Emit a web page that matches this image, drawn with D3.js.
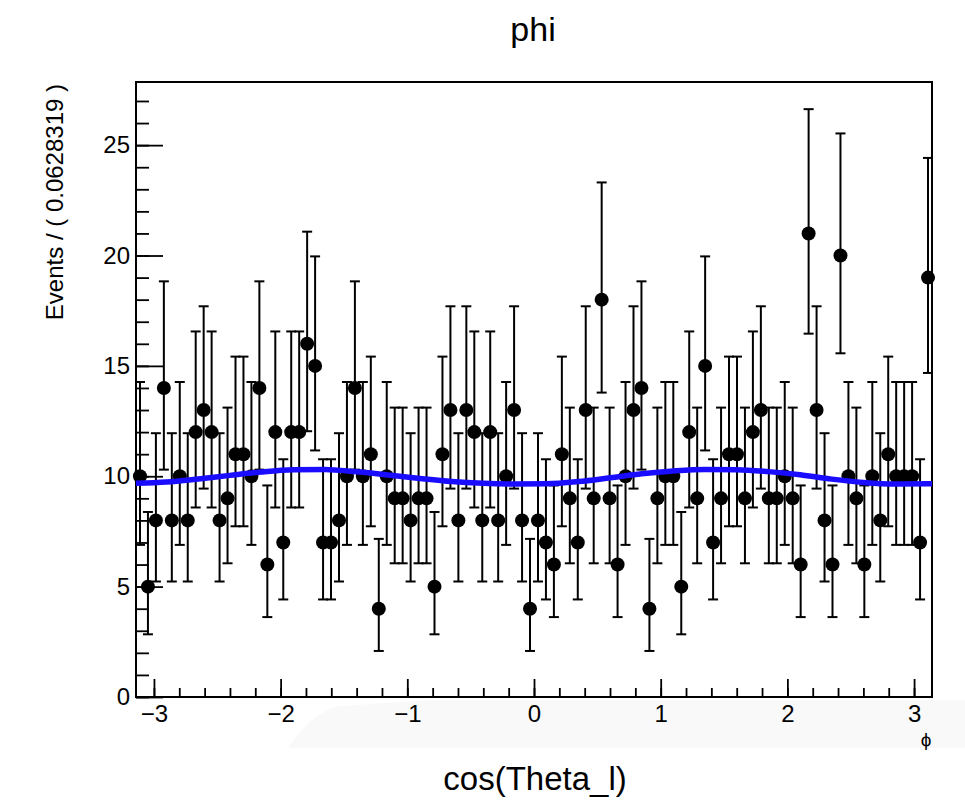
<!DOCTYPE html>
<html>
<head>
<meta charset="utf-8">
<script src="https://cdn.jsdelivr.net/npm/d3@7"></script>
<style>
  html, body { margin: 0; padding: 0; background: #ffffff; }
  svg { display: block; }
  text { font-family: "Liberation Sans", Arial, Helvetica, sans-serif; fill: #000; }
</style>
</head>
<body>
<svg id="chart" width="965" height="805"></svg>
<script>
// ---------------- data ----------------
const chartTitle = "phi";
const xTitle = "cos(Theta_l)";
const yTitle = "Events / ( 0.0628319 )";
const xVarLabel = "ϕ";
const binWidth = 0.0628319;
const xRange = [-Math.PI, Math.PI];
const yRange = [0, 27.86];
const xMajorTicks = [-3, -2, -1, 0, 1, 2, 3];
const yMajorTicks = [0, 5, 10, 15, 20, 25];

// event counts per bin (100 bins from -pi to pi)
const counts = [
  10, 5, 8, 14, 8, 10, 8, 12, 13, 12,
  8, 9, 11, 11, 10, 14, 6, 12, 7, 12,
  12, 16, 15, 7, 7, 8, 10, 14, 10, 11,
  4, 10, 9, 9, 8, 9, 9, 5, 11, 13,
  8, 13, 12, 8, 12, 8, 10, 13, 8, 4,
  8, 7, 6, 11, 9, 7, 13, 9, 18, 9,
  6, 10, 13, 14, 4, 9, 10, 10, 5, 12,
  9, 15, 7, 9, 11, 11, 9, 12, 13, 9,
  9, 10, 9, 6, 21, 13, 8, 6, 20, 10,
  9, 6, 10, 8, 11, 10, 10, 10, 7, 19
];

// Poisson 68% interval bounds, indexed by count
const poisLo = [0, 0.173, 0.708, 1.367, 2.086, 2.840, 3.620, 4.419, 5.232, 6.057, 6.891,
                7.734, 8.585, 9.441, 10.30, 11.17, 12.04, 12.92, 13.79, 14.68, 15.57, 16.46];
const poisHi = [1.841, 3.300, 4.638, 5.918, 7.163, 8.382, 9.584, 10.77, 11.95, 13.11, 14.27,
                15.42, 16.56, 17.70, 18.83, 19.96, 21.08, 22.20, 23.31, 24.42, 25.53, 26.63];

// fitted pdf curve
const fitPhi = [-3.1416, -2.9, -2.65, -2.4, -2.15, -1.9, -1.65, -1.4, -1.15, -0.9, -0.65, -0.4, -0.15,
                0.1, 0.35, 0.6, 0.85, 1.1, 1.35, 1.6, 1.85, 2.1, 2.35, 2.6, 2.85, 3.1416];
const fitVal = [9.68, 9.74, 9.88, 10.04, 10.19, 10.29, 10.31, 10.20, 10.06, 9.90, 9.76, 9.68, 9.65,
                9.66, 9.76, 9.93, 10.11, 10.24, 10.31, 10.30, 10.21, 10.07, 9.87, 9.72, 9.65, 9.66];

// ---------------- layout ----------------
const svg = d3.select("#chart");
const L = 136, R = 932, T = 82, B = 697;
const x = d3.scaleLinear().domain(xRange).range([L, R]);
const y = d3.scaleLinear().domain(yRange).range([B, T]);

// faint background band behind the x labels
svg.append("path")
  .attr("d", "M430,700 L965,700 L965,748 L288,748 C300,730 315,712 340,706 Z")
  .attr("fill", "#f9f9f9");

// frame
svg.append("rect")
  .attr("x", L).attr("y", T).attr("width", R - L).attr("height", B - T)
  .attr("fill", "none").attr("stroke", "#000").attr("stroke-width", 2);

// y axis: minor ticks
const yMinor = d3.range(0, 28, 1).filter(v => v <= yRange[1]);
svg.append("g").attr("transform", `translate(${L},0)`)
  .call(d3.axisRight(y).tickValues(yMinor).tickSize(13).tickFormat(""))
  .call(g => g.select(".domain").remove())
  .call(g => g.selectAll("line").attr("stroke", "#000").attr("stroke-width", 1.8));
// y axis: major ticks
svg.append("g").attr("transform", `translate(${L},0)`)
  .call(d3.axisRight(y).tickValues(yMajorTicks).tickSize(27).tickFormat(""))
  .call(g => g.select(".domain").remove())
  .call(g => g.selectAll("line").attr("stroke", "#000").attr("stroke-width", 1.8));
// y labels
svg.append("g").attr("transform", `translate(${L},0)`)
  .call(d3.axisLeft(y).tickValues(yMajorTicks).tickSize(0).tickPadding(6).tickFormat(d3.format("d")))
  .call(g => g.select(".domain").remove())
  .call(g => g.selectAll("text").attr("font-size", 24).attr("font-family", "Liberation Sans, Arial, sans-serif"));

// x axis: minor ticks
const xMinor = d3.range(-3.0, 3.21, 0.2).map(v => Math.round(v * 10) / 10).filter(v => v >= xRange[0] && v <= xRange[1]);
svg.append("g").attr("transform", `translate(0,${B})`)
  .call(d3.axisTop(x).tickValues(xMinor).tickSize(9).tickFormat(""))
  .call(g => g.select(".domain").remove())
  .call(g => g.selectAll("line").attr("stroke", "#000").attr("stroke-width", 1.8));
svg.append("g").attr("transform", `translate(0,${B})`)
  .call(d3.axisTop(x).tickValues(xMajorTicks).tickSize(18).tickFormat(""))
  .call(g => g.select(".domain").remove())
  .call(g => g.selectAll("line").attr("stroke", "#000").attr("stroke-width", 1.8));
svg.append("g").attr("transform", `translate(0,${B})`)
  .call(d3.axisBottom(x).tickValues(xMajorTicks).tickSize(0).tickPadding(8).tickFormat(d3.format("d")))
  .call(g => g.select(".domain").remove())
  .call(g => g.selectAll("text").attr("font-size", 24).attr("font-family", "Liberation Sans, Arial, sans-serif"));

// titles
svg.append("text").attr("x", 533).attr("y", 41)
  .attr("text-anchor", "middle").attr("font-size", 34).text(chartTitle);
svg.append("text").attr("x", 535).attr("y", 790)
  .attr("text-anchor", "middle").attr("font-size", 33).text(xTitle);
svg.append("text").attr("transform", "translate(63,84) rotate(-90)")
  .attr("text-anchor", "end").attr("font-size", 24).text(yTitle);
svg.append("text").attr("x", 926).attr("y", 746)
  .attr("text-anchor", "middle").attr("font-size", 19).text(xVarLabel);

// ---------------- data points ----------------
const pts = counts.map((n, i) => ({
  phi: xRange[0] + (i + 0.5) * binWidth,
  n: n, lo: poisLo[n], hi: poisHi[n]
}));
const gData = svg.append("g");
const capW = 5;
gData.selectAll("line.ev").data(pts).join("line")
  .attr("class", "ev")
  .attr("x1", d => x(d.phi)).attr("x2", d => x(d.phi))
  .attr("y1", d => y(d.lo)).attr("y2", d => y(d.hi))
  .attr("stroke", "#000").attr("stroke-width", 2);
gData.selectAll("line.capT").data(pts).join("line")
  .attr("class", "capT")
  .attr("x1", d => x(d.phi) - capW).attr("x2", d => x(d.phi) + capW)
  .attr("y1", d => y(d.hi)).attr("y2", d => y(d.hi))
  .attr("stroke", "#000").attr("stroke-width", 2);
gData.selectAll("line.capB").data(pts).join("line")
  .attr("class", "capB")
  .attr("x1", d => x(d.phi) - capW).attr("x2", d => x(d.phi) + capW)
  .attr("y1", d => y(d.lo)).attr("y2", d => y(d.lo))
  .attr("stroke", "#000").attr("stroke-width", 2);
gData.selectAll("line.eh").data(pts).join("line")
  .attr("class", "eh")
  .attr("x1", d => x(d.phi - binWidth / 2)).attr("x2", d => x(d.phi + binWidth / 2))
  .attr("y1", d => y(d.n)).attr("y2", d => y(d.n))
  .attr("stroke", "#000").attr("stroke-width", 2);
gData.selectAll("circle").data(pts).join("circle")
  .attr("cx", d => x(d.phi)).attr("cy", d => y(d.n))
  .attr("r", 7).attr("fill", "#000");

// ---------------- fit curve ----------------
const fitPts = fitPhi.map((p, i) => [p, fitVal[i]]);
svg.append("path")
  .datum(fitPts)
  .attr("d", d3.line().x(d => x(d[0])).y(d => y(d[1])).curve(d3.curveMonotoneX))
  .attr("fill", "none").attr("stroke", "#1a0dff").attr("stroke-width", 5.5);
</script>
</body>
</html>
